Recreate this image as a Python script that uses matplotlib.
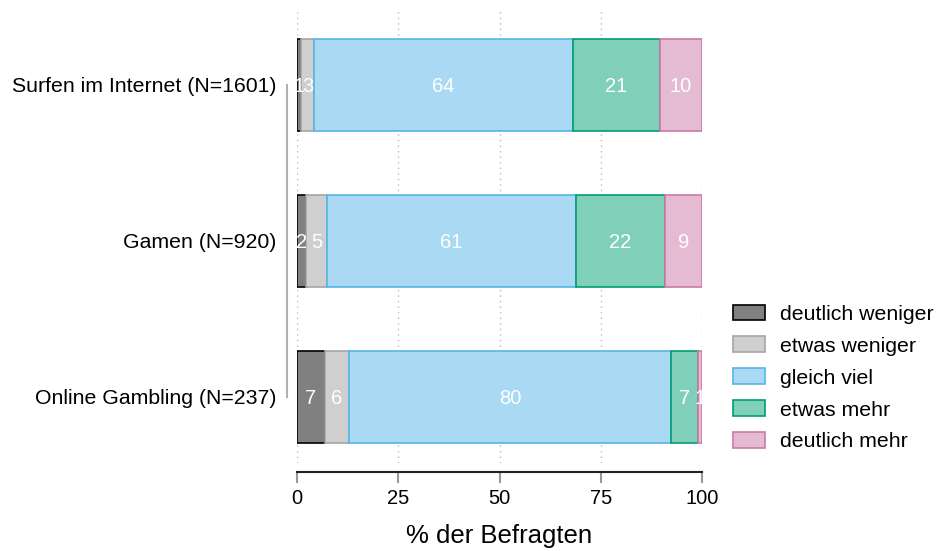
import matplotlib
matplotlib.use("Agg")
import matplotlib.pyplot as plt
from matplotlib.patches import Patch
import numpy as np

plt.rcParams['font.family'] = ['Liberation Sans', 'DejaVu Sans']

categories = ["Surfen im Internet (N=1601)", "Gamen (N=920)", "Online Gambling (N=237)"]
levels = ["deutlich weniger", "etwas weniger", "gleich viel", "etwas mehr", "deutlich mehr"]
deutlich_weniger = [1.0, 2.2, 6.9]
etwas_weniger = [3.2, 5.2, 5.9]
gleich_viel = [64.0, 61.4, 79.5]
etwas_mehr = [21.4, 22.1, 6.7]
deutlich_mehr = [10.4, 9.1, 1.0]
xticks = [0, 25, 50, 75, 100]

series = [deutlich_weniger, etwas_weniger, gleich_viel, etwas_mehr, deutlich_mehr]
fills = ["#808080", "#cfcfcf", "#aad9f3", "#80cfb9", "#e5bbd3"]
edges = ["#000000", "#a6a6a6", "#56b4e9", "#009e73", "#cc79a7"]

fig = plt.figure(figsize=(9.39, 5.51), dpi=100)
ax = fig.add_axes([297/939, 1-463/551, (702-297)/939, (463-10)/551])

ypos = np.array([2, 1, 0])
left = np.zeros(3)
for vals, fc, ec in zip(series, fills, edges):
    vals = np.array(vals)
    ax.barh(ypos, vals, left=left, height=0.59, color=fc, edgecolor=ec, linewidth=1.2, zorder=3)
    for y, l, v in zip(ypos, left, vals):
        ax.text(l + v/2, y, f"{int(round(v))}", ha='center', va='center_baseline', color='white',
                fontsize=14.5, zorder=4, clip_on=True)
    left += vals

ax.set_xlim(0, 100)
ax.set_ylim(-0.423, 2.48)
ax.set_xticks(xticks)
ax.set_xticklabels([str(t) for t in xticks])
ax.set_yticks(ypos)
ax.set_yticklabels(categories)
ax.grid(axis='x', linestyle=(0, (1, 3)), color='#bbbbbb', linewidth=1, zorder=0)

for s in ['top', 'right']:
    ax.spines[s].set_visible(False)
ax.spines['left'].set_position(('outward', 7.2))
ax.spines['left'].set_bounds(0, 2)
ax.spines['left'].set_color('#b0b0b0')
ax.spines['left'].set_linewidth(1.5)
ax.spines['bottom'].set_position(('outward', 6.5))
ax.spines['bottom'].set_bounds(0, 100)
ax.spines['bottom'].set_color('#222222')
ax.spines['bottom'].set_linewidth(1.5)

ax.tick_params(axis='y', length=0, pad=7.5, labelsize=15.3)
ax.tick_params(axis='x', length=8, width=1.5, color='#999999', pad=4.5, labelsize=14.5)
ax.set_xlabel("% der Befragten", fontsize=18.5, labelpad=11)

handles = [Patch(facecolor=fc, edgecolor=ec, linewidth=1.2, label=lab)
           for fc, ec, lab in zip(fills, edges, levels)]
fig.legend(handles=handles, loc='center left', bbox_to_anchor=(733/939, 1-378/551),
           frameon=False, fontsize=15.3, handlelength=1.5, handleheight=0.75,
           handletextpad=0.7, labelspacing=0.6, borderpad=0, borderaxespad=0)

fig.savefig("out.png", dpi=100)
